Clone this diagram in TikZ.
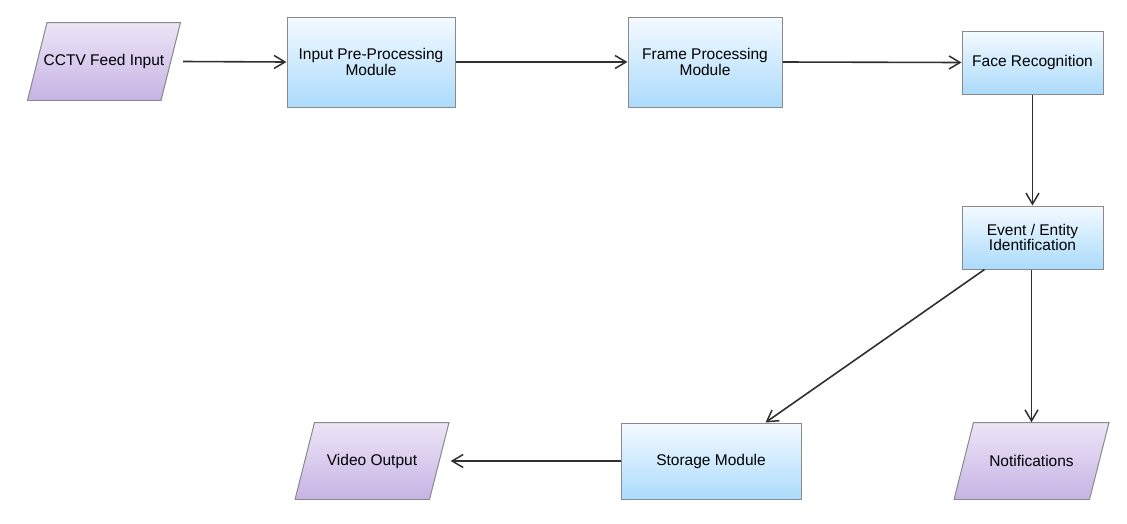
\documentclass[tikz,border=0pt]{standalone}
\usepackage{fontspec}
\setmainfont{Liberation Sans}
\usetikzlibrary{arrows.meta}
\definecolor{procTop}{HTML}{F4FAFF}
\definecolor{procBot}{HTML}{ABDBFC}
\definecolor{dataTop}{HTML}{EDE5F7}
\definecolor{dataBot}{HTML}{C6B3E4}
\definecolor{edgeGray}{HTML}{8A8A8A}
\definecolor{lineGray}{HTML}{303030}
\begin{document}
\begin{tikzpicture}
            [x=1pt,y=-1pt,
             Proc/.style={rectangle,draw=edgeGray,line width=1pt,top color=procTop,bottom color=procBot,
               align=center,inner sep=0pt,font=\fontsize{15.5}{12.6}\selectfont},
             Data/.style={rectangle,align=center,inner sep=0pt,font=\fontsize{15.5}{12.6}\selectfont,
               path picture={\draw[edgeGray,line width=1pt,top color=dataTop,bottom color=dataBot]
                 ([xshift=20pt]path picture bounding box.north west) -- ([xshift=-0.5pt]path picture bounding box.north east)
                 -- ([xshift=-20pt]path picture bounding box.south east) -- ([xshift=0.5pt]path picture bounding box.south west) -- cycle;}},
             Flow/.style={->,draw=lineGray,line width=1.6pt},
             >={Straight Barb[length=11pt,width=13pt,line width=1.5pt]}];
            \useasboundingbox (0,0) rectangle (1127,523);
            \node[Data,minimum width=154,minimum height=78] (cctv) at (104,61.5){CCTV Feed Input};
            \node[Proc,minimum width=168,minimum height=90] (input) at (371,62){Input Pre-Processing\\Module};
            \node[Proc,minimum width=154,minimum height=90] (frame) at (705,62){Frame Processing\\Module};
            \node[Proc,minimum width=141,minimum height=63] (face) at (1032.5,62.5){Face Recognition};
            \node[Proc,minimum width=141,minimum height=63] (event) at (1032.5,237.5){Event / Entity\\Identification};
            \node[Proc,minimum width=180,minimum height=76] (storage) at (711,461){Storage Module};
            \node[Data,minimum width=155,minimum height=77] (video) at (372,461){Video Output};
            \node[Data,minimum width=156,minimum height=77] (notif) at (1031.5,461){Notifications};
            \draw[Flow]([xshift=2]cctv.east) to (input.west);
            \draw[Flow](input.east) to (frame.west);
            \draw[Flow](frame.east) to (face.west);
            \draw[Flow](face.south) to (event.north);
            \draw[Flow]([xshift=23]event.south west) to ([xshift=145]storage.north west);
            \draw[Flow](event.south -| notif.north) to (notif.north);
            \draw[Flow](storage.west) to ([xshift=1]video.east);
        \end{tikzpicture}
\end{document}
